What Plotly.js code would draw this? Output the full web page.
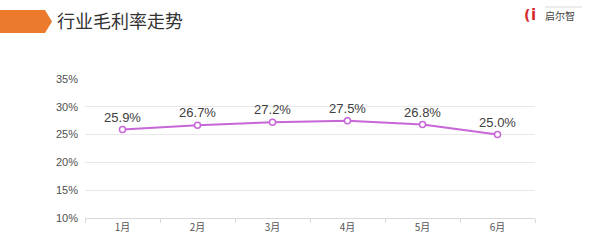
<!DOCTYPE html>
<html><head><meta charset="utf-8">
<script src="https://cdn.plot.ly/plotly-3.0.1.min.js"></script>
<style>html,body{margin:0;padding:0;background:#fff}#c{width:599px;height:252px}</style>
</head><body><div id="c"></div>
<script>
const months = ['1月','2月','3月','4月','5月','6月'];
const margin = [25.9, 26.7, 27.2, 27.5, 26.8, 25.0];
const labels = ['25.9%','26.7%','27.2%','27.5%','26.8%','25.0%'];
const yTicks = [10,15,20,25,30,35];
const yTickText = ['10%','15%','20%','25%','30%','35%'];

const W=599,H=252,L=85,R=64,T=79,B=34;
const pw=W-L-R, ph=H-T-B;
const px=x=>(x-L)/pw, py=y=>1-(y-T)/ph;

const trace={
  x:months,y:margin,type:'scatter',mode:'lines+markers+text',
  text:labels,textposition:'top center',
  textfont:{family:'Liberation Sans, Arial, sans-serif',size:13,color:'#404040'},
  line:{color:'#c766d6',width:2},
  marker:{symbol:'circle',size:6,color:'#ffffff',line:{color:'#c766d6',width:1.5}},
  cliponaxis:false,hoverinfo:'skip'
};
const layout={
  width:W,height:H,margin:{l:L,r:R,t:T,b:B},
  paper_bgcolor:'#ffffff',plot_bgcolor:'#ffffff',showlegend:false,
  font:{family:'Noto Sans CJK SC, Arial, sans-serif',color:'#555'},
  title:{text:'行业毛利率走势',x:57/W,xanchor:'left',xref:'container',y:1-22/H,yanchor:'middle',yref:'container',
    font:{family:'Noto Sans CJK SC, sans-serif',size:18,color:'#333333'}},
  xaxis:{type:'category',range:[-0.5,5.5],tickson:'boundaries',ticks:'outside',ticklen:4,tickcolor:'#d9d9d9',
    showline:true,linecolor:'#d9d9d9',linewidth:1,showgrid:false,zeroline:false,
    tickfont:{size:10,color:'#555'},fixedrange:true},
  yaxis:{range:[10,35],tickvals:yTicks,ticktext:yTickText,showgrid:true,gridcolor:'#e8e8e8',gridwidth:1,
    zeroline:false,showline:false,ticks:'',ticklabelstandoff:6,
    tickfont:{family:'Liberation Sans, Arial, sans-serif',size:11,color:'#505050'},fixedrange:true},
  shapes:[
    {type:'path',xref:'paper',yref:'paper',
     path:`M ${px(0)} ${py(10)} L ${px(45)} ${py(10)} L ${px(52)} ${py(21.5)} L ${px(45)} ${py(33)} L ${px(0)} ${py(33)} Z`,
     fillcolor:'#ec7a2c',line:{width:0}},
    {type:'line',xref:'paper',yref:'paper',x0:px(545),x1:px(582),y0:py(7),y1:py(7),line:{color:'#d8d8d8',width:1}}
  ],
  annotations:[
    {xref:'paper',yref:'paper',x:px(522),y:py(15),xanchor:'left',yanchor:'middle',showarrow:false,
     text:'<b>(</b>',font:{family:'DejaVu Sans, sans-serif',size:14,color:'#d42a2a'}},
    {xref:'paper',yref:'paper',x:px(529),y:py(15),xanchor:'left',yanchor:'middle',showarrow:false,
     text:'<b>i</b>',font:{family:'DejaVu Sans, sans-serif',size:15,color:'#d42a2a'}},
    {xref:'paper',yref:'paper',x:px(543),y:py(15),xanchor:'left',yanchor:'middle',showarrow:false,
     text:'启尔智',font:{family:'Noto Sans CJK SC, sans-serif',size:10,color:'#444'}}
  ]
};
Plotly.newPlot('c',[trace],layout,{displayModeBar:false,staticPlot:true});
</script></body></html>
